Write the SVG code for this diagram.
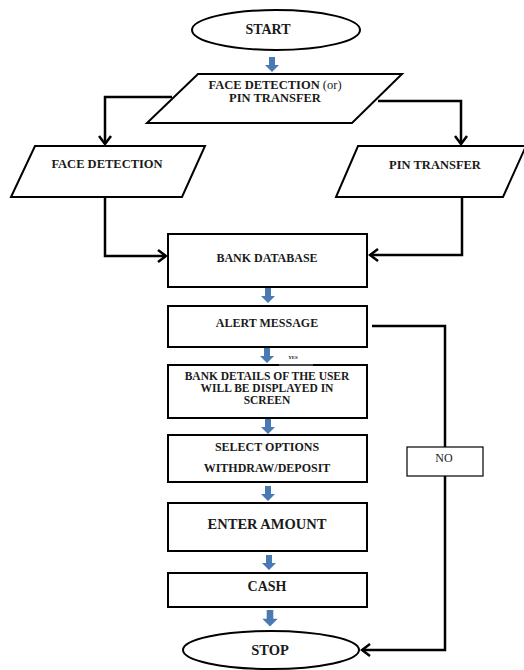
<svg xmlns="http://www.w3.org/2000/svg" xmlns:xlink="http://www.w3.org/1999/xlink" width="524" height="670" viewBox="0 0 524 670">
<style>
.shape{fill:#fff;stroke:#000;stroke-width:2}
.conn{fill:none;stroke:#000;stroke-width:2.5}
.t{font-family:"Liberation Serif","Times New Roman",serif;font-weight:bold;fill:#1a1a1a;text-anchor:middle}
.r{font-weight:normal}
.blue{fill:#4a7ab4}
</style>
<defs>
<marker id="chev" markerUnits="userSpaceOnUse" viewBox="-11 -8 13 16" markerWidth="13" markerHeight="16" refX="0" refY="0" orient="auto">
<path d="M-8,-6 L0,0 L-8,6" fill="none" stroke="#000" stroke-width="2.5"/>
</marker>
<path id="barrow" class="blue" d="M-3,0 H3 V8 H7 L0,15 L-7,8 H-3 Z"/>
</defs>
<rect width="524" height="670" fill="#fff"/>

<g id="connectors">
<path class="conn" d="M172,97 H105 V144" marker-end="url(#chev)"/>
<path class="conn" d="M378,101 H461 V144" marker-end="url(#chev)"/>
<path class="conn" d="M105,197 V256 H166" marker-end="url(#chev)"/>
<path class="conn" d="M462,197 V255 H370" marker-end="url(#chev)"/>
<path class="conn" d="M372,326 H445 V447"/>
<path class="conn" d="M445,476 V650 H362" marker-end="url(#chev)"/>
<use href="#barrow" transform="translate(272,57)"/>
<use href="#barrow" transform="translate(268,288)"/>
<use href="#barrow" transform="translate(267,348)"/>
<use href="#barrow" transform="translate(268,419)"/>
<use href="#barrow" transform="translate(268,486)"/>
<use href="#barrow" transform="translate(269,555)"/>
<use href="#barrow" transform="translate(270,610) scale(1.1)"/>
</g>

<g id="start">
<ellipse class="shape" cx="276" cy="30" rx="84" ry="20"/>
<text class="t" x="268" y="34" font-size="14">START</text>
</g>

<g id="choice">
<polygon class="shape" points="198,74 402,74 352,123 147,123"/>
<text class="t" x="275" y="89" font-size="12.5">FACE DETECTION <tspan class="r">(or)</tspan></text>
<text class="t" x="275" y="102" font-size="12.5">PIN TRANSFER</text>
</g>

<g id="face">
<polygon class="shape" points="35,146 205,146 182,197 11,197"/>
<text class="t" x="107" y="168" font-size="12.5">FACE DETECTION</text>
</g>

<g id="pin">
<polygon class="shape" points="358,146 526,146 503,197 336,197"/>
<text class="t" x="435" y="169" font-size="12.5">PIN TRANSFER</text>
</g>

<g id="bankdb">
<rect class="shape" x="168" y="234" width="199" height="53"/>
<text class="t" x="267" y="262" font-size="12">BANK DATABASE</text>
</g>

<g id="alert">
<rect class="shape" x="168" y="306" width="199" height="41"/>
<text class="t" x="267" y="327" font-size="12">ALERT MESSAGE</text>
</g>

<g id="details">
<rect class="shape" x="168" y="365" width="199" height="53"/>
<rect x="279" y="350" width="34" height="14" fill="#fff"/>
<line x1="279" y1="365" x2="313" y2="365" stroke="#888" stroke-width="1"/>
<text class="t" x="293" y="359" font-size="5">YES</text>
<text class="t" x="267" y="380" font-size="11.5">BANK DETAILS OF THE USER</text>
<text class="t" x="267" y="392" font-size="11.5">WILL BE DISPLAYED IN</text>
<text class="t" x="267" y="404" font-size="11.5">SCREEN</text>
</g>

<g id="options">
<rect class="shape" x="168" y="435" width="199" height="47"/>
<text class="t" x="267" y="451" font-size="12">SELECT OPTIONS</text>
<text class="t" x="267" y="472" font-size="12">WITHDRAW/DEPOSIT</text>
</g>

<g id="amount">
<rect class="shape" x="168" y="503" width="199" height="48"/>
<text class="t" x="267" y="529" font-size="14.5">ENTER AMOUNT</text>
</g>

<g id="cash">
<rect class="shape" x="168" y="573" width="199" height="34"/>
<text class="t" x="267" y="591" font-size="14">CASH</text>
</g>

<g id="no">
<rect x="407" y="447" width="76" height="29" fill="#fff" stroke="#000" stroke-width="1.2"/>
<text class="t r" x="444" y="462" font-size="12">NO</text>
</g>

<g id="stop">
<ellipse class="shape" cx="271" cy="650" rx="88" ry="19"/>
<text class="t" x="270" y="655" font-size="14.5">STOP</text>
</g>
</svg>
